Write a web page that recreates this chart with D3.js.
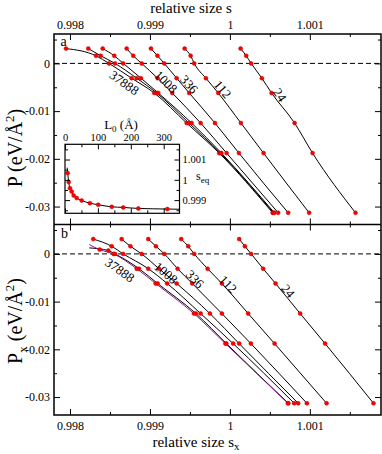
<!DOCTYPE html>
<html>
<head>
<meta charset="utf-8">
<script src="https://cdn.jsdelivr.net/npm/d3@7"></script>
<style>
  body { margin: 0; background: #fff; }
  svg { display: block; }
  text { font-family: "Liberation Serif", "Times New Roman", serif; fill: #000; }
</style>
</head>
<body>
<svg id="chart" width="382" height="454"></svg>
<script>
// pressure levels (eV/A^2) where each system size was sampled
var pLevels = [0.0031, 0.0016, 0, -0.0031, -0.0062, -0.0125, -0.0188, -0.0313];

// panel a : relative size s for each size, one value per pressure level
var a37888 = [0.99795, 0.998325, 0.998488, 0.998771, 0.999054, 0.999459, 0.999866, 1.000534];
var aMidA  = [0.998229, 0.998384, 0.998563, 0.998834, 0.999084, 0.999488, 0.999881, 1.000544];
var aMidB  = [0.998409, 0.998554, 0.998666, 0.998888, 0.999104, 0.999521, 0.999894, 1.000556];
var a1008  = [0.998709, 0.998791, 0.998896, 0.999096, 0.999279, 0.999634, 0.999959, 1.000604];
var a336   = [0.999013, 0.999094, 0.999179, 0.999334, 0.999491, 0.999813, 1.000113, 1.000729];
var a112   = [0.999434, 0.999509, 0.999554, 0.9997, 0.999854, 1.000138, 1.000421, 1.000991];
var a24    = [1.000134, 1.000204, 1.000266, 1.0004, 1.000521, 1.000809, 1.001034, 1.001571];

// panel b : relative size s_x (two largest sizes start at a lower Px)
var b37888  = [0.998371, 0.998544, 0.998834, 0.999071, 0.99955, 0.999944, 1.000725];
var b37888P = [0.0009, 0, -0.0031, -0.0062, -0.0125, -0.0188, -0.0313];
var b37888Fit = [0.998241, 0.00195];
var bMidA   = [0.998479, 0.998563, 0.998863, 0.999096, 0.999575, 0.999956, 1.000731];
var bMidAP  = [0.0007, 0, -0.0031, -0.0062, -0.0125, -0.0188, -0.0313];
var bMidAFit = [0.998241, 0.00126];
var bMidB  = [0.998291, 0.998521, 0.998666, 0.998979, 0.999216, 0.999634, 1.000041, 1.000804];
var b1008  = [0.998646, 0.998756, 0.998896, 0.999113, 0.999334, 0.99975, 1.000116, 1.000854];
var b336   = [0.998979, 0.999075, 0.999179, 0.999346, 0.999529, 0.9999, 1.000263, 1.000963];
var b112   = [0.999391, 0.999479, 0.999554, 0.999721, 0.9999, 1.000229, 1.000559, 1.001209];
var b24    = [1.000116, 1.000188, 1.000266, 1.000416, 1.000571, 1.000879, 1.001191, 1.001796];

// inset : equilibrium size vs L0
var insetL0  = [8.2, 11.2, 15.1, 20.3, 26.4, 35.5, 50.6, 75.8, 101, 142, 177, 223, 311];
var insetSeq = [1.00033, 0.99989, 0.99959, 0.99942, 0.99923, 0.9991, 0.99898, 0.99885, 0.99877, 0.99867, 0.99864, 0.99859, 0.99856];
var insetFitStart = [6.5, 1.0006];
var insetFitEnd = [348, 0.99855];

// ticks
var sTicks = [0.998, 0.999, 1, 1.001];
var sTickLabels = ["0.998", "0.999", "1", "1.001"];
var sMinor = [0.9985, 0.9995, 1.0005, 1.0015];
var pTicks = [0, -0.01, -0.02, -0.03];
var pTickLabels = ["0", "-0.01", "-0.02", "-0.03"];
var pMinor = [0.005, -0.005, -0.015, -0.025];
var l0Ticks = [0, 100, 200, 300];
var l0Minor = [50, 150, 250];
var seqTicks = [0.999, 1, 1.001];
var seqTickLabels = ["0.999", "1", "1.001"];
var seqMinor = [0.9985, 0.9995, 1.0005, 1.0015];

var svg = d3.select("#chart");
var pLeft = 54, pRight = 381, pTop = 34, pMid = 224.5, pBottom = 415;

var x = d3.scaleLinear().domain([0.9978, 1.00189]).range([pLeft, pRight]);
var yA = d3.scaleLinear().domain([0.00616, -0.03376]).range([pTop, pMid]);
var yB = d3.scaleLinear().domain([0.00616, -0.03376]).range([pMid, pBottom]);

function pairs(s, p) {
  return s.map(function(v, i) { return [v, p[i]]; });
}

var panelA = [
  {pts: pairs(a37888, pLevels)}, {pts: pairs(aMidA, pLevels)}, {pts: pairs(aMidB, pLevels)},
  {pts: pairs(a1008, pLevels)}, {pts: pairs(a336, pLevels)}, {pts: pairs(a112, pLevels)},
  {pts: pairs(a24, pLevels)}
];
var panelB = [
  {pts: pairs(bMidA, bMidAP), fit: bMidAFit},
  {pts: pairs(b37888, b37888P), fit: b37888Fit, color: "#8b1a8b"},
  {pts: pairs(bMidB, pLevels)}, {pts: pairs(b1008, pLevels)}, {pts: pairs(b336, pLevels)},
  {pts: pairs(b112, pLevels)}, {pts: pairs(b24, pLevels)}
];

function drawAxes(y, y0, y1, labelTop, labelBottom) {
  var g = svg.append("g");
  // left / right
  g.append("g").attr("transform", "translate(" + pLeft + ",0)")
    .call(d3.axisLeft(y).tickValues(pTicks).tickFormat(function(d, i) { return pTickLabels[i]; })
      .tickSizeInner(-6).tickSizeOuter(0).tickPadding(4))
    .attr("font-size", 12);
  g.append("g").attr("transform", "translate(" + pLeft + ",0)")
    .call(d3.axisLeft(y).tickValues(pMinor).tickFormat("").tickSizeInner(-3).tickSizeOuter(0));
  g.append("g").attr("transform", "translate(" + pRight + ",0)")
    .call(d3.axisRight(y).tickValues(pTicks).tickFormat("").tickSizeInner(-6).tickSizeOuter(0));
  g.append("g").attr("transform", "translate(" + pRight + ",0)")
    .call(d3.axisRight(y).tickValues(pMinor).tickFormat("").tickSizeInner(-3).tickSizeOuter(0));
  // top / bottom
  g.append("g").attr("transform", "translate(0," + y0 + ")")
    .call(d3.axisTop(x).tickValues(sTicks)
      .tickFormat(function(d, i) { return labelTop ? sTickLabels[i] : ""; })
      .tickSizeInner(-6).tickSizeOuter(0).tickPadding(5))
    .attr("font-size", 12);
  g.append("g").attr("transform", "translate(0," + y0 + ")")
    .call(d3.axisTop(x).tickValues(sMinor).tickFormat("").tickSizeInner(-3).tickSizeOuter(0));
  g.append("g").attr("transform", "translate(0," + y1 + ")")
    .call(d3.axisBottom(x).tickValues(sTicks)
      .tickFormat(function(d, i) { return labelBottom ? sTickLabels[i] : ""; })
      .tickSizeInner(-6).tickSizeOuter(0).tickPadding(6))
    .attr("font-size", 12);
  g.append("g").attr("transform", "translate(0," + y1 + ")")
    .call(d3.axisBottom(x).tickValues(sMinor).tickFormat("").tickSizeInner(-3).tickSizeOuter(0));
  g.selectAll(".domain").remove();
  g.selectAll(".tick line").attr("stroke", "#000");
}

function drawPanel(series, y, y0, y1, id) {
  svg.append("clipPath").attr("id", id).append("rect")
    .attr("x", pLeft).attr("y", y0).attr("width", pRight - pLeft).attr("height", y1 - y0);
  var g = svg.append("g").attr("clip-path", "url(#" + id + ")");

  // zero pressure line
  g.append("line")
    .attr("x1", pLeft).attr("x2", pRight)
    .attr("y1", y(0)).attr("y2", y(0))
    .attr("stroke", "#000").attr("stroke-width", 1)
    .attr("stroke-dasharray", "5,3");

  var line = d3.line()
    .x(function(d) { return x(d[0]); })
    .y(function(d) { return y(d[1]); })
    .curve(d3.curveMonotoneX);

  series.forEach(function(c) {
    var pts = c.fit ? [c.fit].concat(c.pts) : c.pts;
    g.append("path").datum(pts)
      .attr("d", line)
      .attr("fill", "none")
      .attr("stroke", c.color || "#000")
      .attr("stroke-width", 1);
  });
  series.forEach(function(c) {
    g.selectAll(null).data(c.pts).enter().append("circle")
      .attr("cx", function(d) { return x(d[0]); })
      .attr("cy", function(d) { return y(d[1]); })
      .attr("r", 2)
      .attr("fill", "#ff0000")
      .attr("stroke", "#c00000")
      .attr("stroke-width", 0.5);
  });
}

function curveLabels(list, y) {
  svg.append("g").selectAll("text").data(list).enter().append("text")
    .attr("transform", function(d) {
      return "translate(" + x(d.s) + "," + y(d.p) + ") rotate(" + d.a + ")";
    })
    .attr("text-anchor", "middle")
    .attr("dominant-baseline", "central")
    .attr("font-size", 13)
    .text(function(d) { return d.t; });
}

drawPanel(panelA, yA, pTop, pMid, "clipA");
drawPanel(panelB, yB, pMid, pBottom, "clipB");
drawAxes(yA, pTop, pMid, true, false);
drawAxes(yB, pMid, pBottom, false, true);

curveLabels([
  {t: "24", s: 1.000625, p: -0.00662, a: 56},
  {t: "112", s: 0.999909, p: -0.00543, a: 49},
  {t: "336", s: 0.999491, p: -0.00438, a: 48},
  {t: "1008", s: 0.9992, p: -0.00384, a: 44},
  {t: "37888", s: 0.998679, p: -0.00405, a: 35}
], yA);
curveLabels([
  {t: "24", s: 1.000729, p: -0.00777, a: 51},
  {t: "112", s: 0.999979, p: -0.00637, a: 46},
  {t: "336", s: 0.999563, p: -0.00526, a: 45},
  {t: "1008", s: 0.9992, p: -0.00396, a: 40},
  {t: "37888", s: 0.998625, p: -0.00338, a: 35}
], yB);

// frames
svg.append("rect").attr("x", pLeft).attr("y", pTop).attr("width", pRight - pLeft).attr("height", pBottom - pTop)
  .attr("fill", "none").attr("stroke", "#000").attr("stroke-width", 1.5);
svg.append("line").attr("x1", pLeft).attr("x2", pRight).attr("y1", pMid).attr("y2", pMid)
  .attr("stroke", "#000").attr("stroke-width", 1.5);

// panel letters
svg.append("text").attr("x", 60.5).attr("y", 46).attr("font-size", 14).text("a");
svg.append("text").attr("x", 61).attr("y", 238).attr("font-size", 14).text("b");

// axis titles
svg.append("text").attr("x", 191).attr("y", 13).attr("text-anchor", "middle")
  .attr("font-size", 15).text("relative size s");
var bt = svg.append("text").attr("x", 196).attr("y", 447).attr("text-anchor", "middle")
  .attr("font-size", 15);
bt.append("tspan").text("relative size s");
bt.append("tspan").attr("font-size", 11).attr("dy", 3).text("x");

var ya = svg.append("text").attr("transform", "translate(22,148) rotate(-90)")
  .attr("text-anchor", "middle").attr("font-size", 20);
ya.append("tspan").text("P (eV/Å");
ya.append("tspan").attr("font-size", 13).attr("dy", -8).text("2");
ya.append("tspan").attr("dy", 8).text(")");

var yb = svg.append("text").attr("transform", "translate(22,321) rotate(-90)")
  .attr("text-anchor", "middle").attr("font-size", 20);
yb.append("tspan").text("P");
yb.append("tspan").attr("font-size", 13).attr("dy", 5).text("x");
yb.append("tspan").attr("dy", -5).text(" (eV/Å");
yb.append("tspan").attr("font-size", 13).attr("dy", -8).text("2");
yb.append("tspan").attr("dy", 8).text(")");

// ---- inset ----
var iL = 65, iR = 179.5, iT = 144.3, iB = 213.3;
var xi = d3.scaleLinear().domain([0, 348]).range([iL, iR]);
var yi = d3.scaleLinear().domain([0.99835, 1.00175]).range([iB, iT]);

var inset = svg.append("g");
inset.append("rect").attr("x", iL).attr("y", iT).attr("width", iR - iL).attr("height", iB - iT)
  .attr("fill", "#fff");
svg.append("clipPath").attr("id", "clipI").append("rect")
  .attr("x", iL).attr("y", iT).attr("width", iR - iL).attr("height", iB - iT);

var ig = inset.append("g").attr("clip-path", "url(#clipI)");
var insetPts = insetL0.map(function(v, i) { return [v, insetSeq[i]]; });
var fitPts = [insetFitStart].concat(insetPts, [insetFitEnd]);
ig.append("path").datum(fitPts)
  .attr("d", d3.line().x(function(d) { return xi(d[0]); }).y(function(d) { return yi(d[1]); })
    .curve(d3.curveMonotoneX))
  .attr("fill", "none").attr("stroke", "#000").attr("stroke-width", 1);
ig.selectAll("circle").data(insetPts).enter().append("circle")
  .attr("cx", function(d) { return xi(d[0]); })
  .attr("cy", function(d) { return yi(d[1]); })
  .attr("r", 2).attr("fill", "#ff0000").attr("stroke", "#c00000").attr("stroke-width", 0.5);

var ia = inset.append("g");
ia.append("g").attr("transform", "translate(0," + iT + ")")
  .call(d3.axisTop(xi).tickValues(l0Ticks).tickSizeInner(-5).tickSizeOuter(0).tickPadding(3))
  .attr("font-size", 10.5);
ia.append("g").attr("transform", "translate(0," + iT + ")")
  .call(d3.axisTop(xi).tickValues(l0Minor).tickFormat("").tickSizeInner(-3).tickSizeOuter(0));
ia.append("g").attr("transform", "translate(0," + iB + ")")
  .call(d3.axisBottom(xi).tickValues(l0Ticks).tickFormat("").tickSizeInner(-5).tickSizeOuter(0));
ia.append("g").attr("transform", "translate(0," + iB + ")")
  .call(d3.axisBottom(xi).tickValues(l0Minor).tickFormat("").tickSizeInner(-3).tickSizeOuter(0));
ia.append("g").attr("transform", "translate(" + iR + ",0)")
  .call(d3.axisRight(yi).tickValues(seqTicks).tickFormat(function(d, i) { return seqTickLabels[i]; })
    .tickSizeInner(-5).tickSizeOuter(0).tickPadding(3))
  .attr("font-size", 10.5);
ia.append("g").attr("transform", "translate(" + iR + ",0)")
  .call(d3.axisRight(yi).tickValues(seqMinor).tickFormat("").tickSizeInner(-3).tickSizeOuter(0));
ia.append("g").attr("transform", "translate(" + iL + ",0)")
  .call(d3.axisLeft(yi).tickValues(seqTicks).tickFormat("").tickSizeInner(-5).tickSizeOuter(0));
ia.append("g").attr("transform", "translate(" + iL + ",0)")
  .call(d3.axisLeft(yi).tickValues(seqMinor).tickFormat("").tickSizeInner(-3).tickSizeOuter(0));
ia.selectAll(".domain").remove();
ia.selectAll(".tick line").attr("stroke", "#000");

inset.append("rect").attr("x", iL).attr("y", iT).attr("width", iR - iL).attr("height", iB - iT)
  .attr("fill", "none").attr("stroke", "#000").attr("stroke-width", 1.2);

var lt = inset.append("text").attr("x", 121).attr("y", 129).attr("text-anchor", "middle")
  .attr("font-size", 13);
lt.append("tspan").text("L");
lt.append("tspan").attr("font-size", 9).attr("dy", 3).text("0");
lt.append("tspan").attr("dy", -3).text(" (Å)");

var st = inset.append("text").attr("x", 196).attr("y", 180).attr("font-size", 12);
st.append("tspan").text("s");
st.append("tspan").attr("font-size", 9).attr("dy", 3).text("eq");
</script>
</body>
</html>
